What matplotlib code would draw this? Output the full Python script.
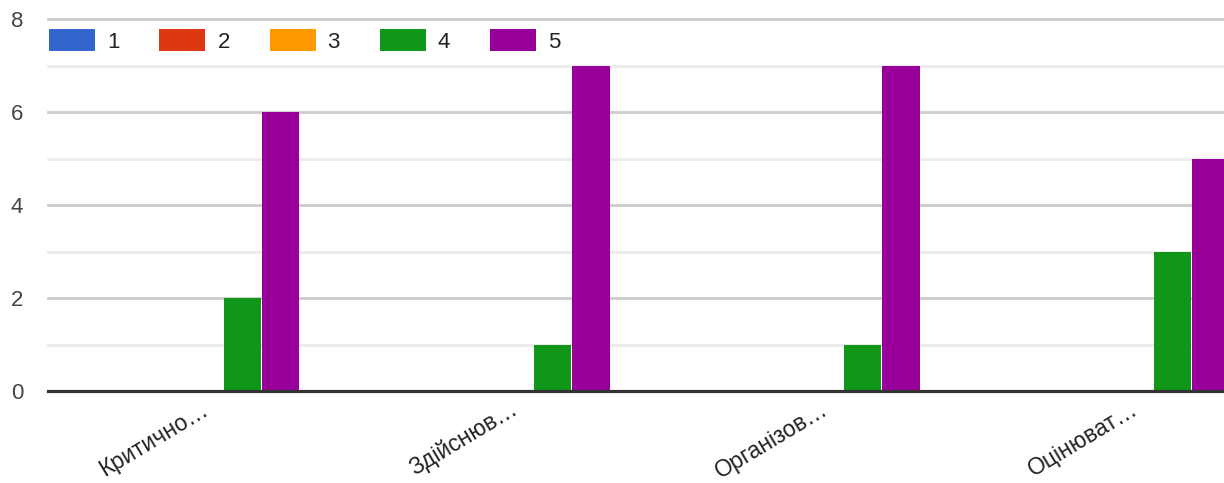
import numpy as np
import matplotlib.pyplot as plt
from matplotlib.transforms import ScaledTranslation

plt.rcParams['font.family'] = ['Liberation Sans', 'DejaVu Sans']

categories = ["Критично…", "Здійснюв…", "Організов…", "Оцінюват…"]
series_names = ["1", "2", "3", "4", "5"]
colors = ["#3366cc", "#dc3912", "#ff9900", "#109618", "#990099"]
values = {
    "1": [0, 0, 0, 0],
    "2": [0, 0, 0, 0],
    "3": [0, 0, 0, 0],
    "4": [2, 1, 1, 3],
    "5": [6, 7, 7, 5],
}

fig = plt.figure(figsize=(12.24, 4.83), dpi=100)
ax = fig.add_axes([48 / 1224, 1 - 391 / 483, 1 - 48 / 1224, 372 / 483])

x = np.arange(len(categories))
w = 0.124
for i, name in enumerate(series_names):
    offs = (i - 2) * w
    ax.bar(x + offs, values[name], width=w * 0.97, color=colors[i], label=name, zorder=3)

ax.set_xlim(-0.503, 3.29)
ax.set_ylim(0, 8)

# gridlines
for v in range(1, 9):
    ax.axhline(v, color="#cccccc" if v % 2 == 0 else "#ebebeb", lw=2, zorder=1, clip_on=False)
ax.axhline(0, color="#333333", lw=2.3, zorder=4, clip_on=False)

ax.set_yticks([0, 2, 4, 6, 8])
ax.tick_params(axis="y", length=0, pad=18, labelsize=16, labelcolor="#444444")
ax.set_xticks(x)
ax.set_xticklabels(categories, rotation=31, ha="right", va="top", rotation_mode="anchor",
                   fontsize=16.5, color="#222222")
ax.tick_params(axis="x", length=0, pad=5)
for lab in ax.get_xticklabels():
    lab.set_transform(lab.get_transform() + ScaledTranslation(-0.04, 0, fig.dpi_scale_trans))

for s in ax.spines.values():
    s.set_visible(False)

leg = ax.legend(loc="upper left", bbox_to_anchor=(0.001, 0.972), ncol=5, frameon=False,
                fontsize=16, handlelength=2.07, handleheight=1.1, handletextpad=0.54,
                columnspacing=1.79, borderaxespad=0, borderpad=0)
for t in leg.get_texts():
    t.set_color("#222222")

fig.savefig("out.png", dpi=100)
